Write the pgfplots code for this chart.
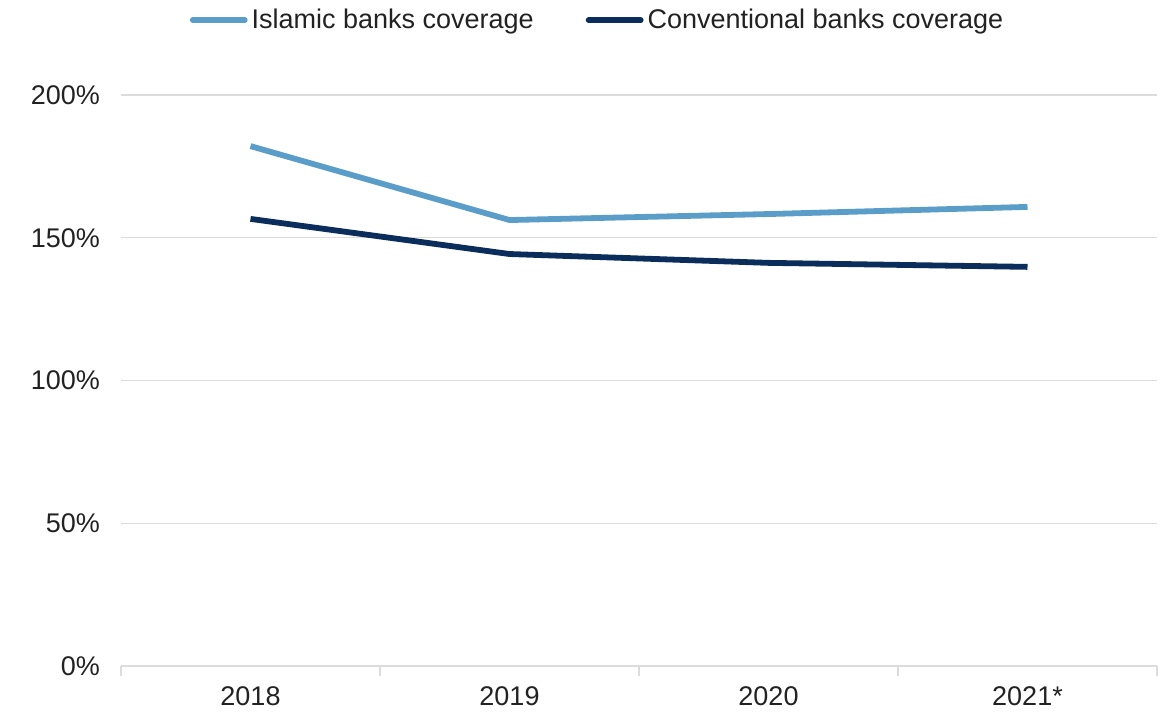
\documentclass[border=0pt]{standalone}
\usepackage{pgfplots}
\pgfplotsset{compat=1.18}
\usepackage{fontspec}
\setmainfont{Liberation Sans}
\definecolor{islamic}{HTML}{5A9DC8}
\definecolor{conv}{HTML}{0B2D5B}
\definecolor{gridc}{HTML}{DCDCDC}
\definecolor{txt}{HTML}{222222}
\begin{document}
\begin{tikzpicture}
\begin{axis}[
  name=ax,
  scale only axis,
  width=518pt, height=285.5pt,
  xmin=-0.5, xmax=3.5,
  ymin=0, ymax=200,
  xtick={0,1,2,3},
  xticklabels={2018,2019,2020,2021*},
  minor xtick={-0.5,0.5,1.5,2.5,3.5},
  ytick={0,50,100,150,200},
  yticklabel={\pgfmathprintnumber{\tick}\%},
  /pgf/number format/assume math mode=true,
  ymajorgrids,
  grid style={gridc, line width=0.6pt},
  axis line style={draw=none},
  major tick length=0pt,
  minor tick length=5pt,
  tick align=outside,
  xtick pos=bottom,
  ytick pos=left,
  minor tick style={gridc, line width=0.6pt},
  ticklabel style={font=\fontsize{13.5}{16}\selectfont, text=txt},
  yticklabel style={xshift=-7pt},
  xticklabel style={yshift=-7pt},
  legend style={
    at={(axis description cs:0.461,1.131)}, anchor=center,
    draw=none, fill=none,
    legend columns=2,
    font=\fontsize{13.5}{16}\selectfont, text=txt,
    /tikz/every even column/.append style={column sep=24pt},
    inner sep=0pt,
  },
  legend cell align=left,
  legend image code/.code={\draw[#1, line width=2.9pt, line cap=round] (0pt,0pt) -- (26pt,0pt);},
]
\addplot[islamic, line width=2.9pt] coordinates {(0,182.1) (1,156.2) (2,158.3) (3,160.8)};
\addlegendentry{Islamic banks coverage}
\addplot[conv, line width=2.9pt] coordinates {(0,156.6) (1,144.3) (2,141.2) (3,139.8)};
\addlegendentry{Conventional banks coverage}
\end{axis}
\path ([xshift=-60.5pt,yshift=-26pt]ax.south west) rectangle ([xshift=5.5pt,yshift=47.5pt]ax.north east);
\end{tikzpicture}
\end{document}
